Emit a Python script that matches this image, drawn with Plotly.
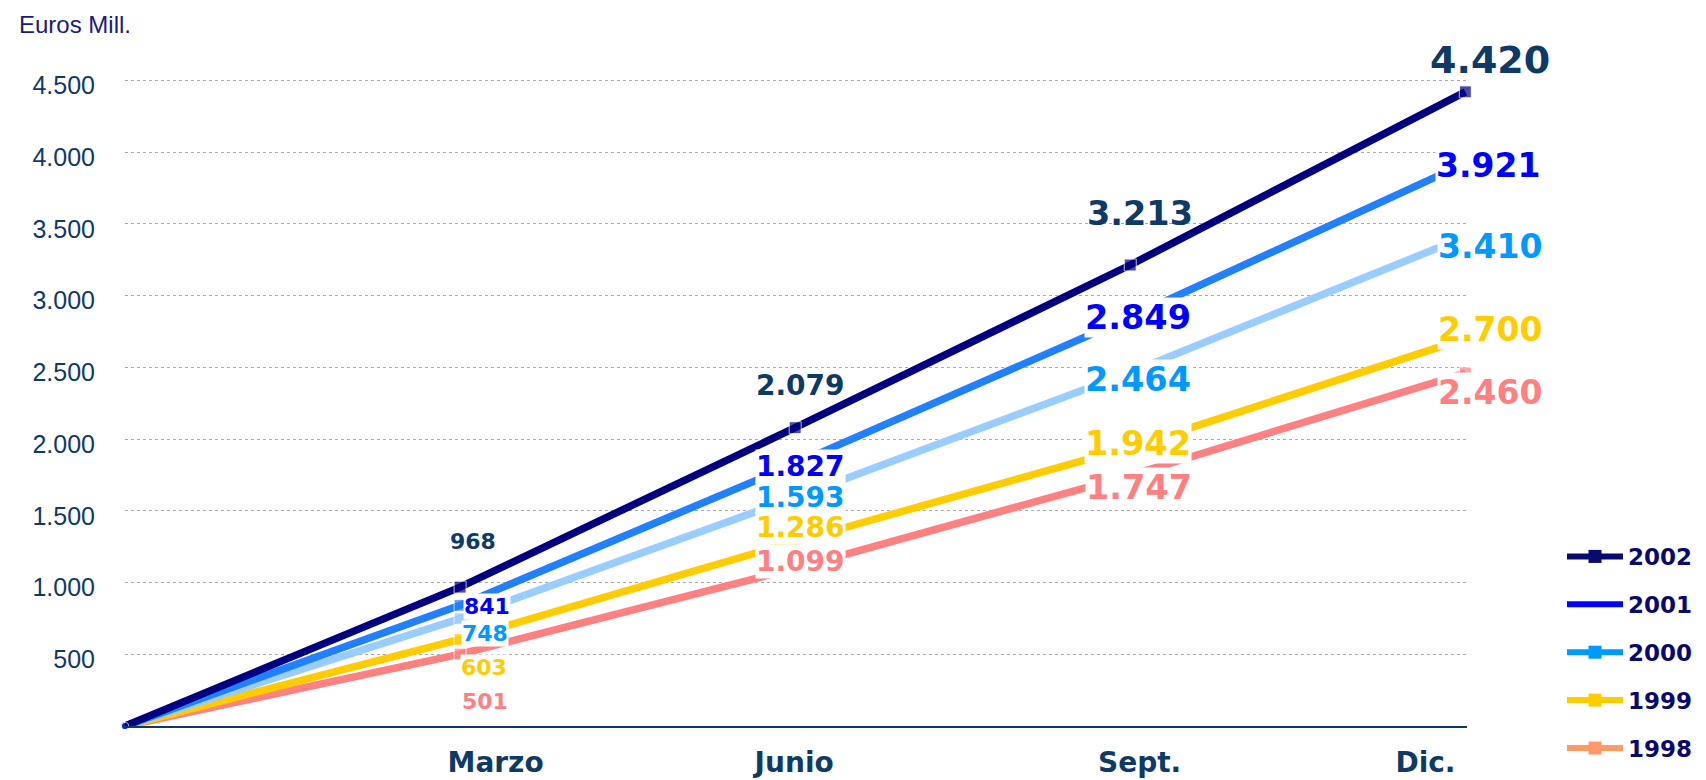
import plotly.graph_objects as go

# ---------------- data ----------------
months = ["Marzo", "Junio", "Sept.", "Dic."]
x_index = [0, 1, 2, 3, 4]            # 0 = start of year
years = ["2002", "2001", "2000", "1999", "1998"]
s2002 = [0, 968, 2079, 3213, 4420]
s2001 = [0, 841, 1827, 2849, 3921]
s2000 = [0, 748, 1593, 2464, 3410]
s1999 = [0, 603, 1286, 1942, 2700]
s1998 = [0, 501, 1099, 1747, 2460]
y_ticks = [500, 1000, 1500, 2000, 2500, 3000, 3500, 4000, 4500]

# ---------------- styles / positions ----------------
series = {"2002": s2002, "2001": s2001, "2000": s2000, "1999": s1999, "1998": s1998}
line_colors = {"2002": "#000080", "2001": "#2080ff", "2000": "#99ccff",
               "1999": "#ffcc00", "1998": "#ff8080"}
label_colors = {"2002": "#0d3a66", "2001": "#0000ff", "2000": "#0099ff",
                "1999": "#ffcc00", "1998": "#ff8080"}
legend_colors = {"2002": "#0a0a6e", "2001": "#0000ff", "2000": "#0099ff",
                 "1999": "#ffcc00", "1998": "#ff9966"}
legend_markers = {"2002": True, "2001": False, "2000": True, "1999": True, "1998": True}
# label offsets from the data point in pixels (dx right, dy down)
label_offsets = {
    "2002": [(12.5, -46), (5, -42), (9.5, -52), (25, -31.5)],
    "2001": [(26.5, 1), (5, 3), (7.5, 0), (23, 2)],
    "2000": [(24.5, 15), (5, 0), (7.5, 7.5), (25, 9.5)],
    "1999": [(23.5, 28), (5, -14), (7.5, -3.5), (25, -9.6)],
    "1998": [(24.5, 47.5), (5, -6.6), (8.5, 12.5), (25, 19)],
}
label_sizes = [22, 28, 33.5, 33]
big_last_size = 38
month_tick_pos = [1.106, 1.997, 3.028, 3.881]

NAVY_TXT = "#0d3a66"
BOLD = "DejaVu Sans"


def fmt(v):
    return f"{v:,}".replace(",", ".")


fig = go.Figure()

# plot lines (bottom series first so 2002 is on top)
for yr in reversed(years):
    vals = series[yr]
    fig.add_trace(go.Scatter(
        x=x_index, y=vals, mode="lines+markers",
        line=dict(color=line_colors[yr], width=7.5),
        marker=dict(symbol=["circle"] + ["square"] * 4,
                    size=[7.5] + [12] * 4, color=line_colors[yr]),
        showlegend=False, cliponaxis=False, hoverinfo="skip",
    ))

# legend entries
for yr in years:
    fig.add_trace(go.Scatter(
        x=[None], y=[None],
        mode="lines+markers" if legend_markers[yr] else "lines",
        line=dict(color=legend_colors[yr], width=6),
        marker=dict(symbol="square", size=13, color=legend_colors[yr]),
        name=yr, legendgroup=yr,
    ))

# value labels
annotations = []
for yr in years:
    vals = series[yr]
    for i in range(1, 5):
        dx, dy = label_offsets[yr][i - 1]
        size = label_sizes[i - 1]
        if yr == "2002" and i == 4:
            size = big_last_size
        annotations.append(dict(
            x=x_index[i], y=vals[i], xref="x", yref="y",
            text=fmt(vals[i]), showarrow=False,
            xshift=dx, yshift=-dy, xanchor="center", yanchor="middle",
            font=dict(family=BOLD, size=size, color=label_colors[yr], weight="bold"),
            bgcolor=None if yr == "2002" else "white", borderpad=0,
        ))

annotations.append(dict(
    x=-0.0805, y=1.063, xref="paper", yref="paper", xanchor="left", yanchor="middle",
    text="Euros Mill.", showarrow=False,
    font=dict(family="Liberation Sans, Arial", size=24, color="#1b1b7e"),
))

fig.update_layout(
    width=1698, height=772,
    margin=dict(l=117, r=239, t=57.5, b=53.5, autoexpand=False),
    paper_bgcolor="white", plot_bgcolor="white",
    annotations=annotations,
    showlegend=True,
    legend=dict(
        x=0.9152, y=0.3174, xref="container", yref="container",
        xanchor="left", yanchor="top",
        font=dict(family=BOLD, size=23, color="#0a0a6e", weight="bold"),
        tracegroupgap=15, itemwidth=56, bgcolor="rgba(0,0,0,0)",
    ),
    xaxis=dict(
        range=[0, 4.005], showgrid=False, zeroline=False,
        showline=True, linecolor=NAVY_TXT, linewidth=2,
        tickvals=month_tick_pos, ticktext=months, ticks="",
        tickfont=dict(family=BOLD, size=28, color=NAVY_TXT, weight="bold"),
        ticklabelstandoff=10,
    ),
    yaxis=dict(
        range=[0, 4600], tickvals=y_ticks, ticktext=[fmt(v) for v in y_ticks],
        showgrid=True, gridcolor="#aaaaaa", gridwidth=1, griddash="dot",
        zeroline=False, showline=False, ticks="",
        tickfont=dict(family="Liberation Sans, Arial", size=25, color="#0d3a6b"),
        ticklabelstandoff=29, ticklabelshift=5,
    ),
)

fig.write_html("out.html")
